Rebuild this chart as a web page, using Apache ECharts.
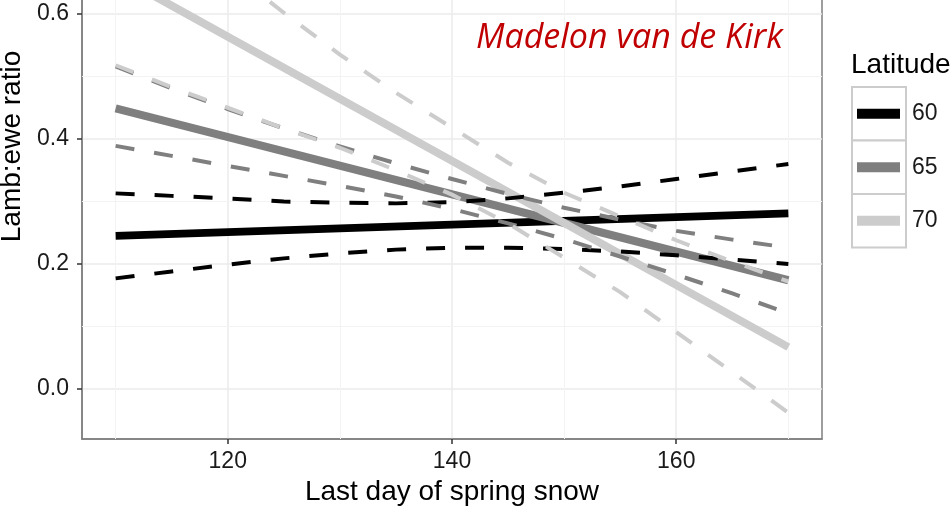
<!DOCTYPE html>
<html><head><meta charset="utf-8">
<script src="https://cdn.jsdelivr.net/npm/echarts@6/dist/echarts.min.js"></script>
<style>html,body{margin:0;padding:0;background:#fff}#c{width:951px;height:507px}</style>
</head><body><div id="c"></div>
<script>
// ---- data ----
const snowDays = [110,115,120,125,130,135,140,145,150,155,160,165,170];
const fitDays = [110,170];
const latitudes = ['60','65','70'];
const fit60 = [0.245, 0.281];
const fit65 = [0.449, 0.174];
const fit70 = [0.663, 0.067];
const upper60 = [0.313,0.309,0.305,0.300,0.298,0.297,0.299,0.305,0.314,0.324,0.336,0.348,0.360];
const lower60 = [0.177,0.188,0.199,0.209,0.217,0.223,0.226,0.226,0.224,0.220,0.214,0.207,0.200];
const upper65 = [0.516,0.481,0.448,0.417,0.388,0.361,0.336,0.312,0.290,0.271,0.253,0.239,0.226];
const lower65 = [0.389,0.373,0.357,0.341,0.325,0.308,0.288,0.265,0.240,0.212,0.183,0.153,0.121];
const upper70 = [0.810,0.740,0.672,0.602,0.535,0.474,0.418,0.362,0.314,0.276,0.238,0.204,0.172];
const lower70 = [0.518,0.483,0.450,0.417,0.386,0.350,0.311,0.265,0.210,0.155,0.091,0.027,-0.038];
const xTicks = [120,140,160];
const yTicks = [0.0,0.2,0.4,0.6];
const xMinorGrid = [110,130,150,170];
const yMinorGrid = [0.1,0.3,0.5,0.7];
const latColors = ['#000000','#7f7f7f','#cccccc'];

const FONT = '"Liberation Sans", Arial, Helvetica, sans-serif';

function pairs(xs, ys){ return xs.map((x,i)=>[x, ys[i]]); }
function lineSeries(name, xs, ys, color, width, dashed, z){
  return {
    type:'line', name, data: pairs(xs, ys), symbol:'none', showSymbol:false,
    lineStyle:{color, width, type: dashed ? [19,20] : 'solid', cap:'butt', join:'round'},
    itemStyle:{color}, z, silent:true, animation:false, clip:true
  };
}

const fits = [fit60, fit65, fit70];
const uppers = [upper60, upper65, upper70];
const lowers = [lower60, lower65, lower70];

const series = [{
  type:'line', name:'minor-grid', data:[], silent:true, animation:false,
  markLine:{
    silent:true, symbol:['none','none'], label:{show:false}, z:1, animation:false,
    lineStyle:{color:'#f3f3f3', width:1, type:'solid'},
    emphasis:{disabled:true},
    data:[...xMinorGrid.map(v=>({xAxis:v})), ...yMinorGrid.map(v=>({yAxis:v}))]
  }
}];
latitudes.forEach((lat,i)=>{
  series.push(lineSeries(lat, fitDays, fits[i], latColors[i], 8, false, 3));
});
latitudes.forEach((lat,i)=>{
  series.push(lineSeries(lat+' upper', snowDays, uppers[i], latColors[i], 4, true, 4));
  series.push(lineSeries(lat+' lower', snowDays, lowers[i], latColors[i], 4, true, 4));
});

const chart = echarts.init(document.getElementById('c'), null, {renderer:'canvas'});
chart.setOption({
  animation:false,
  backgroundColor:'#ffffff',
  title:[
    {text:'Madelon van de Kirk', left:476, top:21, padding:0,
     textStyle:{fontFamily:'"Open Sans", "Noto Sans", sans-serif', fontStyle:'italic', fontWeight:'normal', fontSize:34, color:'#c00000'}},
    {text:'Latitude', left:851, top:51, padding:0,
     textStyle:{fontFamily:FONT, fontWeight:'normal', fontSize:28, color:'#000000'}}
  ],
  grid:{left:82, right:129, top:-146, bottom:68, show:true, borderColor:'#7f7f7f', borderWidth:1.5,
        backgroundColor:'transparent', containLabel:false, outerBoundsMode:'none'},
  xAxis:{
    type:'value', min:107, max:173, minInterval:20, maxInterval:20,
    name:'Last day of spring snow', nameLocation:'middle', nameGap:38,
    nameTextStyle:{fontFamily:FONT, fontSize:28, color:'#000000'},
    axisLine:{show:true, onZero:false, lineStyle:{color:'#7f7f7f', width:1.5}},
    axisTick:{show:true, length:5, customValues:xTicks, lineStyle:{color:'#333333', width:1.5}},
    axisLabel:{customValues:xTicks, margin:11, fontFamily:FONT, fontSize:23, color:'#1a1a1a', formatter:v=>String(v)},
    splitLine:{show:true, lineStyle:{color:'#ebebeb', width:1.5}}
  },
  yAxis:{
    type:'value', min:-0.08, max:0.856, minInterval:0.2, maxInterval:0.2,
    name:'Lamb:ewe ratio', nameLocation:'middle', nameGap:45, nameRotate:90,
    nameTextStyle:{fontFamily:FONT, fontSize:28, color:'#000000'},
    axisLine:{show:true, onZero:false, lineStyle:{color:'#7f7f7f', width:1.5}},
    axisTick:{show:true, length:5, customValues:yTicks, lineStyle:{color:'#333333', width:1.5}},
    axisLabel:{customValues:yTicks, margin:13, fontFamily:FONT, fontSize:23, color:'#1a1a1a', formatter:v=>v.toFixed(1)},
    splitLine:{show:true, lineStyle:{color:'#ebebeb', width:1.5}}
  },
  legend:{
    data:latitudes, orient:'vertical', left:857, top:87, itemWidth:43, itemHeight:10, itemGap:0,
    icon:'rect', selectedMode:false, padding:0,
    textStyle:{fontFamily:FONT, fontSize:23, color:'#1a1a1a', lineHeight:53.5, padding:[0,0,0,7]}
  },
  graphic:[
    {type:'rect', z:0, silent:true, shape:{x:852, y:87, width:54, height:53.5}, style:{fill:'#ffffff', stroke:'#cccccc', lineWidth:2}},
    {type:'rect', z:0, silent:true, shape:{x:852, y:140.5, width:54, height:53.5}, style:{fill:'#ffffff', stroke:'#cccccc', lineWidth:2}},
    {type:'rect', z:0, silent:true, shape:{x:852, y:194, width:54, height:53.5}, style:{fill:'#ffffff', stroke:'#cccccc', lineWidth:2}}
  ],
  series
});
</script>
</body></html>
